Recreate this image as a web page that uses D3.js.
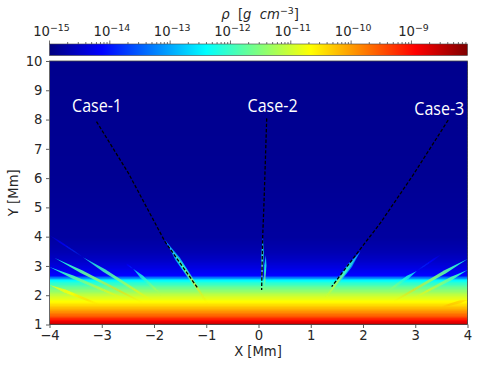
<!DOCTYPE html>
<html>
<head>
<meta charset="utf-8">
<script src="https://cdn.jsdelivr.net/npm/d3@7"></script>
<style>
  html, body { margin: 0; padding: 0; background: #fff; }
  svg { display: block; }
  text { font-family: "DejaVu Sans", sans-serif; fill: #262626; }
</style>
</head>
<body>
<div id="chart"></div>
<script>
const profileY = [1.0, 1.05, 1.15, 1.3, 1.5, 1.75, 2.0, 2.3, 2.5, 2.58, 2.64, 2.7, 3.0, 3.2, 3.5, 4.0, 6.0, 10.0];
const profileRho = [-8.1, -8.5, -8.9, -9.5, -10.0, -10.55, -11.0, -11.7, -12.25, -12.75, -13.5, -14.1, -14.35, -14.5, -14.65, -14.78, -14.86, -14.9];

// jet colormap stops
const jetStops = ["#00007f", "#0000ff", "#007fff", "#00ffff", "#7fff7f", "#ffff00", "#ff7f00", "#ff0000", "#7f0000"];

// [topX, topY, baseX, baseY, topRho, baseRho]
const sideJets = [
  [-4.0, 2.96, -2.52, 1.84, -12.6, -10.6],
  [-3.9, 3.27, -2.2, 1.73, -12.6, -10.4],
  [-3.36, 3.3, -2.0, 1.77, -12.9, -10.6],
  [-2.4, 2.9, -1.85, 2.0, -13.0, -11.2],
  [-4.0, 2.35, -3.03, 1.67, -11.0, -10.4],
  [3.03, 2.83, 2.46, 2.12, -12.9, -11.4],
  [4.0, 3.24, 2.58, 1.78, -12.6, -10.4],
  [4.0, 2.86, 2.97, 1.9, -12.5, -10.6],
  [4.0, 1.84, 3.5, 1.6, -10.5, -10.2]
];
const faintTrails = [
  [-4.0, 4.05, -3.36, 3.3, -14.6, -13.8],
  [-2.55, 3.1, -2.4, 2.9, -14.5, -13.8],
  [3.5, 3.4, 3.03, 2.83, -14.5, -13.8]
];
const caseJets = [
  [-1.79, 3.89, -0.98, 1.73, -13.0, -10.5],
  [0.085, 4.0, 0.06, 2.2, -12.8, -11.3],
  [0.14, 3.37, 0.11, 2.2, -13.1, -11.3],
  [1.95, 3.49, 1.28, 1.9, -13.1, -10.8]
];

// dashed tracks as [x, y] in Mm
const case1Track = [[-3.10, 7.93], [-2.49, 6.17], [-1.79, 3.83], [-1.17, 2.26]];
const case2Track = [[0.157, 8.04], [0.105, 5.14], [0.08, 4.0], [0.06, 2.18]];
const case3Track = [[3.63, 7.98], [2.96, 6.11], [2.33, 4.46], [1.91, 3.49], [1.40, 2.29]];

const caseLabels = ["Case-1", "Case-2", "Case-3"];
const caseLabelX = [-3.09, 0.27, 3.46];
const caseLabelY = [8.26, 8.26, 8.15];

const xTicks = [-4, -3, -2, -1, 0, 1, 2, 3, 4];
const yTicks = [1, 2, 3, 4, 5, 6, 7, 8, 9, 10];
const rhoMin = 1e-15, rhoMax = 8.5e-9;

const width = 498, height = 365;
const plot = { left: 49.5, right: 467.5, top: 61, bottom: 324.5 };
const bar = { top: 44, bottom: 55.5 };

const x = d3.scaleLinear().domain([-4, 4]).range([plot.left, plot.right]);
const y = d3.scaleLinear().domain([1, 10]).range([plot.bottom, plot.top]);
const rhoX = d3.scaleLog().domain([rhoMin, rhoMax]).range([plot.left, plot.right]);

const jet = d3.scaleLinear()
  .domain(jetStops.map((c, i) => i / (jetStops.length - 1)))
  .range(jetStops)
  .interpolate(d3.interpolateRgb);
const logRhoToT = d3.scaleLinear().domain([Math.log10(rhoMin), Math.log10(rhoMax)]).range([0, 1]).clamp(true);
const rhoColor = v => jet(logRhoToT(v));
const profile = d3.scaleLinear().domain(profileY).range(profileRho);

const svg = d3.select("#chart").append("svg").attr("width", width).attr("height", height);
const defs = svg.append("defs");

defs.append("clipPath").attr("id", "plot-clip").append("rect")
  .attr("x", plot.left).attr("y", plot.top)
  .attr("width", plot.right - plot.left).attr("height", plot.bottom - plot.top);

const blur = defs.append("filter").attr("id", "soft")
  .attr("filterUnits", "userSpaceOnUse")
  .attr("x", 0).attr("y", 0).attr("width", width).attr("height", height);
blur.append("feGaussianBlur").attr("stdDeviation", 0.55);

// background density
const field = svg.append("g").attr("clip-path", "url(#plot-clip)");
const rowStep = 0.02;
field.selectAll("rect.row")
  .data(d3.range(1, 10, rowStep))
  .join("rect")
  .attr("class", "row")
  .attr("shape-rendering", "crispEdges")
  .attr("x", plot.left)
  .attr("width", plot.right - plot.left)
  .attr("y", d => y(d + rowStep))
  .attr("height", d => y(d) - y(d + rowStep) + 1)
  .attr("fill", d => rhoColor(profile(d + rowStep / 2)));

// each jet is a thin wedge: pointed at the top, widest a third of the way down
function wedge(j, w) {
  const x0 = x(j[0]), y0 = y(j[1]), x1 = x(j[2]), y1 = y(j[3]);
  const len = Math.hypot(x1 - x0, y1 - y0);
  const nx = -(y1 - y0) / len * w / 2, ny = (x1 - x0) / len * w / 2;
  const mx = x0 + (x1 - x0) * 0.3, my = y0 + (y1 - y0) * 0.3;
  return d3.line()([
    [x0, y0], [mx + nx, my + ny], [x1 + nx * 0.5, y1 + ny * 0.5],
    [x1 - nx * 0.5, y1 - ny * 0.5], [mx - nx, my - ny]
  ]) + "Z";
}

function drawJets(rows, name, w, rhoShift) {
  rows.forEach((j, i) => {
    const id = `${name}-${i}`;
    const grad = defs.append("linearGradient").attr("id", id)
      .attr("gradientUnits", "userSpaceOnUse")
      .attr("x1", x(j[0])).attr("y1", y(j[1]))
      .attr("x2", x(j[2])).attr("y2", y(j[3]));
    grad.append("stop").attr("offset", "0%").attr("stop-color", rhoColor(j[4] + rhoShift));
    grad.append("stop").attr("offset", "45%").attr("stop-color", rhoColor(j[4] + (j[5] - j[4]) * 0.5 + rhoShift)).attr("stop-opacity", 0.9);
    grad.append("stop").attr("offset", "75%").attr("stop-color", rhoColor(j[5] + rhoShift)).attr("stop-opacity", 0.55);
    grad.append("stop").attr("offset", "100%").attr("stop-color", rhoColor(j[5])).attr("stop-opacity", 0);
    field.append("path")
      .attr("d", wedge(j, w))
      .attr("fill", `url(#${id})`)
      .attr("filter", "url(#soft)");
  });
}
drawJets(faintTrails, "trail", 1.6, 0);
drawJets(sideJets, "side", 3.2, 0);
drawJets(caseJets.slice(1, 3), "mid", 2.2, 0);
drawJets([caseJets[0], caseJets[3]], "case-halo", 5, -0.8);
drawJets([caseJets[0], caseJets[3]], "case", 2.6, 0);

// dashed tracks
const line = d3.line().x(d => x(d[0])).y(d => y(d[1])).curve(d3.curveLinear);
[case1Track, case2Track, case3Track].forEach(track => {
  field.append("path")
    .attr("d", line(track))
    .attr("fill", "none")
    .attr("stroke", "#000")
    .attr("stroke-width", 1.3)
    .attr("stroke-dasharray", "3.4,1.9");
});

// case labels
svg.selectAll("text.case")
  .data(caseLabels)
  .join("text")
  .attr("class", "case")
  .attr("x", (d, i) => x(caseLabelX[i]))
  .attr("y", (d, i) => y(caseLabelY[i]))
  .attr("text-anchor", "middle")
  .attr("textLength", 50)
  .attr("lengthAdjust", "spacingAndGlyphs")
  .style("font-family", "'Open Sans', sans-serif")
  .style("font-size", "17.5px")
  .style("fill", "#fff")
  .text(d => d);

// axes
const xAxis = d3.axisBottom(x).tickValues(xTicks).tickFormat(d => d < 0 ? `\u2212${-d}` : d).tickSize(3.5).tickPadding(3);
const yAxis = d3.axisLeft(y).tickValues(yTicks).tickSize(3.5).tickPadding(3.5);

const gx = svg.append("g").attr("transform", `translate(0,${plot.bottom})`).call(xAxis);
const gy = svg.append("g").attr("transform", `translate(${plot.left},0)`).call(yAxis);
[gx, gy].forEach(g => {
  g.selectAll("text").style("font-size", "13.2px").style("font-family", "'DejaVu Sans'").style("fill", "#262626");
  g.selectAll("line").attr("stroke", "#333").attr("stroke-width", 0.8);
  g.select(".domain").remove();
});

svg.append("rect")
  .attr("x", plot.left).attr("y", plot.top)
  .attr("width", plot.right - plot.left).attr("height", plot.bottom - plot.top)
  .attr("fill", "none").attr("stroke", "#444").attr("stroke-width", 0.8);

svg.append("text").attr("x", 258).attr("y", 356)
  .attr("text-anchor", "middle").style("font-size", "13.2px").text("X [Mm]");
svg.append("text")
  .attr("transform", `translate(18,${(plot.top + plot.bottom) / 2}) rotate(-90)`)
  .attr("text-anchor", "middle").style("font-size", "13.2px").text("Y [Mm]");

// colorbar
const barGrad = defs.append("linearGradient").attr("id", "bar-gradient");
barGrad.selectAll("stop")
  .data(jetStops)
  .join("stop")
  .attr("offset", (d, i) => `${i / (jetStops.length - 1) * 100}%`)
  .attr("stop-color", d => d);

svg.append("rect")
  .attr("x", plot.left).attr("y", bar.top)
  .attr("width", plot.right - plot.left).attr("height", bar.bottom - bar.top)
  .attr("fill", "url(#bar-gradient)").attr("stroke", "#444").attr("stroke-width", 0.6);

const rhoTicks = rhoX.ticks();
const isDecade = d => Math.abs(Math.log10(d) - Math.round(Math.log10(d))) < 1e-6;
svg.append("g").selectAll("line")
  .data(rhoTicks)
  .join("line")
  .attr("x1", d => rhoX(d)).attr("x2", d => rhoX(d))
  .attr("y1", bar.top)
  .attr("y2", d => bar.top - (isDecade(d) ? 3.5 : 2))
  .attr("stroke", "#333").attr("stroke-width", 0.7);

const rhoLabels = svg.append("g").selectAll("text")
  .data(rhoTicks.filter(isDecade))
  .join("text")
  .attr("x", d => rhoX(d) + 2)
  .attr("y", 36)
  .attr("text-anchor", "middle")
  .style("font-size", "13.2px");
rhoLabels.append("tspan").text("10");
rhoLabels.append("tspan")
  .attr("dy", -5)
  .style("font-size", "9.4px")
  .text(d => `\u2212${-Math.round(Math.log10(d))}`);

const title = svg.append("text").attr("x", 260).attr("y", 19)
  .attr("text-anchor", "middle").style("font-size", "13.2px").attr("xml:space", "preserve");
title.append("tspan").style("font-style", "italic").text("\u03c1");
title.append("tspan").text("  [");
title.append("tspan").style("font-style", "italic").text("g  cm");
title.append("tspan").attr("dy", -5).style("font-size", "9.4px").text("\u22123");
title.append("tspan").attr("dy", 5).text("]");
</script>
</body>
</html>
